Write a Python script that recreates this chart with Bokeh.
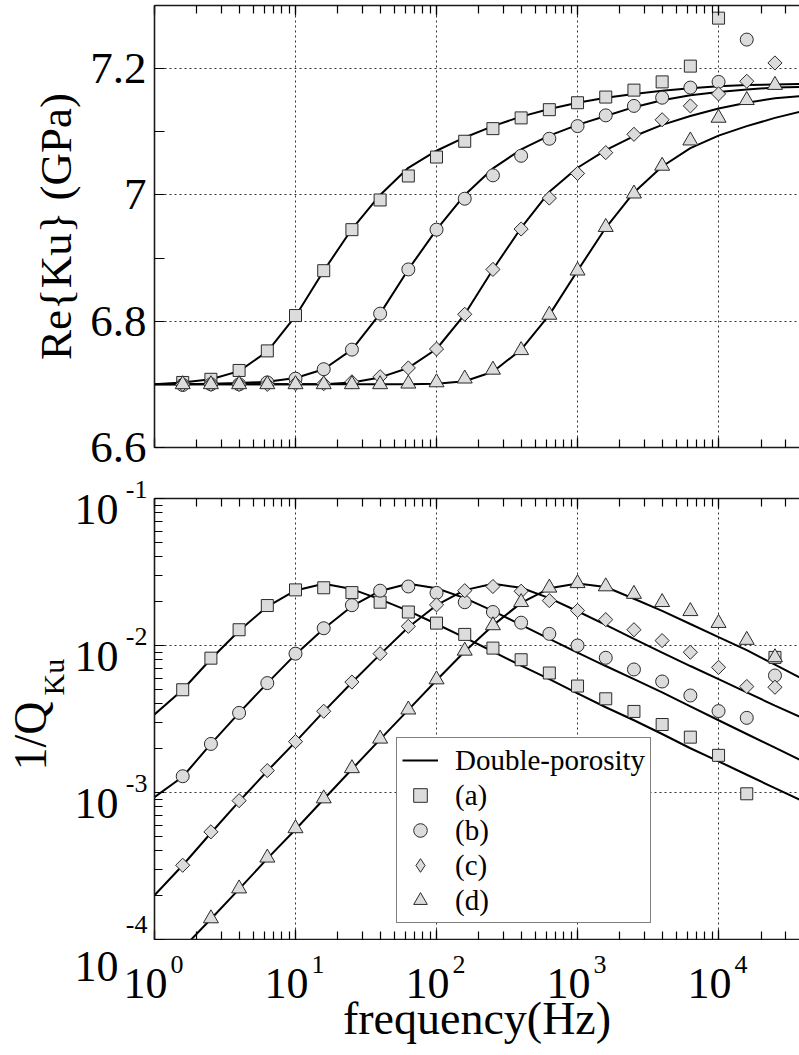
import math
from bokeh.plotting import figure
from bokeh.models import (Range1d, FixedTicker, LogAxis, LogTicker, Legend, LegendItem,
                          CustomJSTickFormatter)
from bokeh.core.properties import value
from bokeh.layouts import column, row
from bokeh.embed import file_html
from bokeh.resources import INLINE

# ---------------- data ----------------
# measurement frequencies (Hz)
freq = [1.585, 2.512, 3.981, 6.310, 10.0, 15.85, 25.12, 39.81, 63.10, 100.0, 158.5,
        251.2, 398.1, 631.0, 1000.0, 1585.0, 2512.0, 3981.0, 6310.0, 10000.0, 15850.0, 25120.0]
# frequencies of the double-porosity model curves (Hz)
model_freq = [1.0, 1.585, 2.512, 3.981, 6.310, 10.0, 15.85, 25.12, 39.81, 63.10, 100.0, 158.5,
              251.2, 398.1, 631.0, 1000.0, 1585.0, 2512.0, 3981.0, 6310.0, 10000.0, 15850.0,
              25120.0, 39810.0]

# Re{Ku} (GPa) measured points
re_a = [6.703, 6.708, 6.722, 6.753, 6.809, 6.880, 6.945, 6.992, 7.030, 7.060, 7.085, 7.105,
        7.122, 7.135, 7.146, 7.155, 7.166, 7.179, 7.204, 7.280]
re_b = [6.699, 6.700, 6.700, 6.703, 6.709, 6.724, 6.755, 6.812, 6.882, 6.945, 6.994, 7.031,
        7.062, 7.089, 7.109, 7.126, 7.141, 7.154, 7.170, 7.179, 7.246]
re_c = [6.700, 6.700, 6.700, 6.700, 6.701, 6.701, 6.704, 6.712, 6.726, 6.756, 6.811, 6.882,
        6.946, 6.995, 7.034, 7.067, 7.096, 7.119, 7.141, 7.160, 7.180, 7.209]
re_d = [6.700, 6.700, 6.700, 6.700, 6.700, 6.700, 6.700, 6.700, 6.701, 6.703, 6.709, 6.723,
        6.754, 6.810, 6.880, 6.949, 7.002, 7.046, 7.086, 7.122, 7.150, 7.174]

# Re{Ku} model curves
ku_a = [6.700, 6.703, 6.708, 6.721, 6.752, 6.808, 6.880, 6.946, 7.000, 7.043, 7.070, 7.091,
        7.109, 7.124, 7.136, 7.146, 7.154, 7.160, 7.165, 7.169, 7.172, 7.174, 7.175, 7.176]
ku_b = [6.700, 6.700, 6.701, 6.702, 6.704, 6.710, 6.724, 6.755, 6.812, 6.882, 6.945, 7.000,
        7.042, 7.072, 7.094, 7.111, 7.125, 7.139, 7.150, 7.158, 7.163, 7.167, 7.170, 7.171]
ku_c = [6.700, 6.700, 6.700, 6.700, 6.700, 6.700, 6.700, 6.703, 6.711, 6.726, 6.756, 6.811,
        6.882, 6.948, 7.005, 7.043, 7.071, 7.093, 7.111, 7.125, 7.137, 7.146, 7.153, 7.157]
ku_d = [6.700, 6.700, 6.700, 6.700, 6.700, 6.700, 6.700, 6.700, 6.700, 6.700, 6.701, 6.705,
        6.720, 6.755, 6.810, 6.880, 6.948, 7.004, 7.045, 7.074, 7.094, 7.109, 7.122, 7.133]

# 1/Q_Ku measured points
q_a = [5.0e-3, 8.2e-3, 1.28e-2, 1.87e-2, 2.39e-2, 2.47e-2, 2.29e-2, 1.97e-2, 1.69e-2, 1.42e-2,
       1.19e-2, 9.6e-3, 8.0e-3, 6.5e-3, 5.3e-3, 4.34e-3, 3.56e-3, 2.90e-3, 2.38e-3, 1.79e-3,
       9.8e-4, 8.3e-3]
q_b = [1.29e-3, 2.14e-3, 3.48e-3, 5.55e-3, 8.8e-3, 1.31e-2, 1.88e-2, 2.36e-2, 2.52e-2, 2.28e-2,
       1.97e-2, 1.69e-2, 1.43e-2, 1.20e-2, 1.0e-2, 8.25e-3, 6.87e-3, 5.69e-3, 4.57e-3, 3.58e-3,
       3.22e-3, 6.25e-3]
q_c = [3.2e-4, 5.4e-4, 8.8e-4, 1.41e-3, 2.22e-3, 3.57e-3, 5.64e-3, 8.8e-3, 1.35e-2, 1.89e-2,
       2.36e-2, 2.52e-2, 2.34e-2, 2.02e-2, 1.73e-2, 1.50e-2, 1.28e-2, 1.08e-2, 9.0e-3, 7.1e-3,
       5.26e-3, 5.2e-3]
q_d = [1.39e-4, 2.22e-4, 3.6e-4, 5.7e-4, 9.1e-4, 1.46e-3, 2.32e-3, 3.66e-3, 5.87e-3, 9.2e-3,
       1.37e-2, 1.97e-2, 2.47e-2, 2.65e-2, 2.52e-2, 2.24e-2, 1.97e-2, 1.71e-2, 1.42e-2, 1.09e-2,
       8.3e-3]

# 1/Q_Ku model curves
qm_a = [3.4e-3, 5.0e-3, 8.1e-3, 1.26e-2, 1.84e-2, 2.37e-2, 2.63e-2, 2.42e-2, 2.06e-2, 1.72e-2,
        1.40e-2, 1.13e-2, 9.1e-3, 7.3e-3, 5.9e-3, 4.72e-3, 3.8e-3, 3.1e-3, 2.5e-3, 2.0e-3,
        1.63e-3, 1.32e-3, 1.07e-3, 8.7e-4]
qm_b = [9.3e-4, 1.28e-3, 2.14e-3, 3.48e-3, 5.55e-3, 8.7e-3, 1.30e-2, 1.85e-2, 2.35e-2, 2.63e-2,
        2.45e-2, 2.10e-2, 1.72e-2, 1.38e-2, 1.11e-2, 8.95e-3, 7.25e-3, 5.9e-3, 4.8e-3, 3.85e-3,
        3.1e-3, 2.5e-3, 2.02e-3, 1.63e-3]
qm_c = [2.0e-4, 3.2e-4, 5.3e-4, 8.7e-4, 1.40e-3, 2.21e-3, 3.55e-3, 5.6e-3, 8.7e-3, 1.33e-2,
        1.88e-2, 2.38e-2, 2.63e-2, 2.47e-2, 2.10e-2, 1.71e-2, 1.38e-2, 1.11e-2, 8.95e-3, 7.25e-3,
        5.9e-3, 4.8e-3, 3.9e-3, 3.2e-3]
qm_d = [5.5e-5, 8.7e-5, 1.38e-4, 2.2e-4, 3.55e-4, 5.6e-4, 9.0e-4, 1.44e-3, 2.3e-3, 3.65e-3,
        5.8e-3, 9.1e-3, 1.37e-2, 1.95e-2, 2.45e-2, 2.64e-2, 2.50e-2, 2.08e-2, 1.72e-2, 1.40e-2,
        1.14e-2, 9.3e-3, 7.4e-3, 5.9e-3]

# axes / ticks / labels
x_start, x_end = 1.0, 3.75e4
re_start, re_end = 6.6, 7.3
re_ticks = [6.6, 6.8, 7.0, 7.2]
re_minor = [6.7, 6.9, 7.1]
q_start, q_end = 1e-4, 1e-1
x_tick_exps = [0, 1, 2, 3, 4]
y_tick_exps = [-1, -2, -3, -4]
legend_labels = ["Double-porosity", "(a)", "(b)", "(c)", "(d)"]
x_title = "frequency(Hz)"
re_title = "Re{Ku} (GPa)"
q_title_main, q_title_sub = "1/Q", "Ku"

# ---------------- style / geometry ----------------
FONT = "Liberation Serif"
FILL = "#dcdcdc"
EDGE = "#2a2a2a"
BIG = "44px"
SUP = "26px"
W = 799
LEFT = 154                      # page x of the frames' left edge
FRAME_W = W - LEFT
P1_H = 472
P2_TOP, FRAME2_H, P2_BOT = 26, 441, 1
P2_H = P2_TOP + FRAME2_H + P2_BOT
PB_H = 1055 - P1_H - P2_H


def style_axis(ax, show_labels=False):
    ax.axis_line_color = "#1a1a1a"
    ax.axis_line_width = 1.6
    ax.major_tick_in = 10
    ax.major_tick_out = 0
    ax.minor_tick_in = 8
    ax.minor_tick_out = 0
    ax.major_tick_line_color = "black"
    ax.minor_tick_line_color = "black"
    ax.major_tick_line_width = 1.2
    ax.minor_tick_line_width = 1.2
    if not show_labels:
        ax.major_label_text_color = None
        ax.major_label_text_font_size = "0px"
        ax.major_label_standoff = 0


def style_grid(g):
    g.grid_line_color = "#333333"
    g.grid_line_dash = "2 3"
    g.grid_line_width = 1


def blank(p):
    p.outline_line_color = None
    p.background_fill_color = "white"
    p.border_fill_color = "white"
    if "frame_align" in p.properties():
        p.frame_align = False


xr = Range1d(x_start, x_end)

# ---------------- top panel ----------------
p1 = figure(width=W, height=P1_H, x_axis_type="log", x_range=xr,
            y_range=Range1d(re_start, re_end), output_backend="svg", toolbar_location=None,
            min_border_left=LEFT, min_border_right=0, min_border_top=5, min_border_bottom=25)
blank(p1)

xt1 = LogTicker(num_minor_ticks=10)
p1.xaxis.ticker = xt1
p1.xgrid.ticker = xt1
style_axis(p1.xaxis[0])
top1 = LogAxis(ticker=xt1)
style_axis(top1)
p1.add_layout(top1, "above")

yt1 = FixedTicker(ticks=re_ticks, minor_ticks=re_minor)
p1.yaxis.ticker = yt1
p1.ygrid.ticker = yt1
ya = p1.yaxis[0]
style_axis(ya, show_labels=True)
ya.minor_tick_in = 10
ya.formatter = CustomJSTickFormatter(code="return tick.toFixed(1).replace(/\\.0$/, '')")
ya.major_label_text_font = FONT
ya.major_label_text_font_size = "45px"
ya.major_label_text_color = "black"
ya.major_label_standoff = 8
ya.axis_label = re_title
ya.axis_label_text_font = FONT
ya.axis_label_text_font_size = "45px"
ya.axis_label_text_font_style = "normal"
ya.axis_label_text_color = "black"
ya.axis_label_standoff = 6
style_grid(p1.xgrid[0])
style_grid(p1.ygrid[0])

for curve in (ku_a, ku_b, ku_c, ku_d):
    p1.line(model_freq, curve, line_color="black", line_width=2)

p1.scatter(freq[:len(re_a)], re_a, marker="square", size=12, fill_color=FILL, line_color=EDGE, line_width=1)
p1.scatter(freq[:len(re_b)], re_b, marker="circle", size=13, fill_color=FILL, line_color=EDGE, line_width=1)
p1.scatter(freq[:len(re_c)], re_c, marker="square", angle=math.pi / 4, size=10, fill_color=FILL, line_color=EDGE, line_width=1)
p1.scatter(freq[:len(re_d)], re_d, marker="triangle", size=15, fill_color=FILL, line_color=EDGE, line_width=1)

# ---------------- bottom panel ----------------
p2 = figure(width=FRAME_W + 2, height=P2_H, x_axis_type="log", y_axis_type="log", x_range=xr,
            y_range=Range1d(q_start, q_end), output_backend="svg", toolbar_location=None,
            min_border_left=2, min_border_right=0, min_border_top=P2_TOP, min_border_bottom=P2_BOT)
blank(p2)

xt2 = LogTicker(num_minor_ticks=10)
p2.xaxis.ticker = xt2
p2.xgrid.ticker = xt2
style_axis(p2.xaxis[0])
top2 = LogAxis(ticker=xt2)
style_axis(top2)
p2.add_layout(top2, "above")

yt2 = LogTicker(num_minor_ticks=10)
p2.yaxis.ticker = yt2
p2.ygrid.ticker = yt2
style_axis(p2.yaxis[0])
style_grid(p2.xgrid[0])
style_grid(p2.ygrid[0])

l_a = p2.line(model_freq, qm_a, line_color="black", line_width=2)
p2.line(model_freq, qm_b, line_color="black", line_width=2)
p2.line(model_freq, qm_c, line_color="black", line_width=2)
p2.line(model_freq, qm_d, line_color="black", line_width=2)

s_a = p2.scatter(freq[:len(q_a)], q_a, marker="square", size=12, fill_color=FILL, line_color=EDGE, line_width=1)
s_b = p2.scatter(freq[:len(q_b)], q_b, marker="circle", size=13, fill_color=FILL, line_color=EDGE, line_width=1)
# series (c): a diamond layer (used for the legend key) covered by rotated squares
s_c = p2.scatter(freq[:len(q_c)], q_c, marker="diamond", size=12, fill_color=FILL, line_color=EDGE, line_width=1)
p2.scatter(freq[:len(q_c)], q_c, marker="square", angle=math.pi / 4, size=10, fill_color=FILL, line_color=EDGE, line_width=1)
s_d = p2.scatter(freq[len(freq) - len(q_d):], q_d, marker="triangle", size=15, fill_color=FILL, line_color=EDGE, line_width=1)

legend = Legend(items=[LegendItem(label=legend_labels[0], renderers=[l_a]),
                       LegendItem(label=legend_labels[1], renderers=[s_a]),
                       LegendItem(label=legend_labels[2], renderers=[s_b]),
                       LegendItem(label=legend_labels[3], renderers=[s_c]),
                       LegendItem(label=legend_labels[4], renderers=[s_d])],
                location=(242, 16), margin=0, padding=5, spacing=1,
                glyph_width=36, glyph_height=34, label_height=30, label_standoff=17,
                label_text_font=FONT, label_text_font_size="29px", label_text_color="black",
                border_line_color="black", border_line_width=1,
                background_fill_color="white", background_fill_alpha=1)
p2.add_layout(legend)

# ---------------- left strip: y tick labels and y title of bottom panel ----------------
ppd_y = FRAME2_H / math.log10(q_end / q_start)
pl = figure(width=LEFT - 2, height=P2_H, x_range=Range1d(0, LEFT - 2), y_axis_type="log",
            y_range=Range1d(10 ** (math.log10(q_start) - P2_BOT / ppd_y),
                            10 ** (math.log10(q_end) + P2_TOP / ppd_y)),
            x_axis_location=None, y_axis_location=None, output_backend="svg",
            toolbar_location=None, min_border=0)
blank(pl)
pl.grid.visible = False
ytick_vals = [10.0 ** e for e in y_tick_exps]
# mantissas (the lowest one lies below this strip and is drawn in the bottom strip)
pl.text(x=[118] * (len(y_tick_exps) - 1), y=ytick_vals[:-1], text=["10"] * (len(y_tick_exps) - 1),
        text_align="right", text_baseline="middle", y_offset=11,
        text_font=value(FONT), text_font_size=BIG, text_color="black")
pl.text(x=[147] * len(y_tick_exps), y=ytick_vals, text=[str(e) for e in y_tick_exps],
        text_align="right", text_baseline="middle", y_offset=[-9, -9, -9, -15],
        text_font=value(FONT), text_font_size=SUP, text_color="black")
q_mid = math.sqrt(q_start * q_end)
pl.text(x=[29.5], y=[q_mid], text=[q_title_main], angle=math.pi / 2, text_align="left",
        text_baseline="middle", y_offset=51.5, text_font=value(FONT),
        text_font_size="46px", text_color="black")
pl.text(x=[53], y=[q_mid], text=[q_title_sub], angle=math.pi / 2, text_align="left",
        text_baseline="middle", y_offset=-23.5, text_font=value(FONT),
        text_font_size="30px", text_color="black")

# ---------------- bottom strip: x tick labels and x title ----------------
ppd_x = FRAME_W / math.log10(x_end / x_start)
pb_x0 = 10 ** (math.log10(x_start) - LEFT / ppd_x)
pb = figure(width=W, height=PB_H, x_axis_type="log", x_range=Range1d(pb_x0, x_end),
            y_range=Range1d(PB_H, 0), x_axis_location=None, y_axis_location=None,
            output_backend="svg", toolbar_location=None, min_border=0)
blank(pb)
pb.grid.visible = False
xtick_vals = [10.0 ** e for e in x_tick_exps]
pb.text(x=xtick_vals, y=[43] * len(x_tick_exps), text=["10"] * len(x_tick_exps),
        text_align="right", text_baseline="middle", x_offset=13,
        text_font=value(FONT), text_font_size=BIG, text_color="black")
pb.text(x=xtick_vals, y=[23.5] * len(x_tick_exps), text=[str(e) for e in x_tick_exps],
        text_align="left", text_baseline="middle", x_offset=16,
        text_font=value(FONT), text_font_size=SUP, text_color="black")
# mantissa of the lowest y tick label (10^-4), at the left edge of the frame
pb.text(x=[x_start], y=[26], text=["10"], text_align="right", text_baseline="middle",
        x_offset=118 - LEFT, text_font=value(FONT), text_font_size=BIG, text_color="black")
pb.text(x=[math.sqrt(x_start * x_end)], y=[77.5], text=[x_title], text_align="center",
        text_baseline="middle", text_font=value(FONT), text_font_size="46px",
        text_color="black")

layout = column(p1, row(pl, p2, spacing=0), pb, spacing=0)
open("out.html", "w").write(file_html(layout, INLINE))
